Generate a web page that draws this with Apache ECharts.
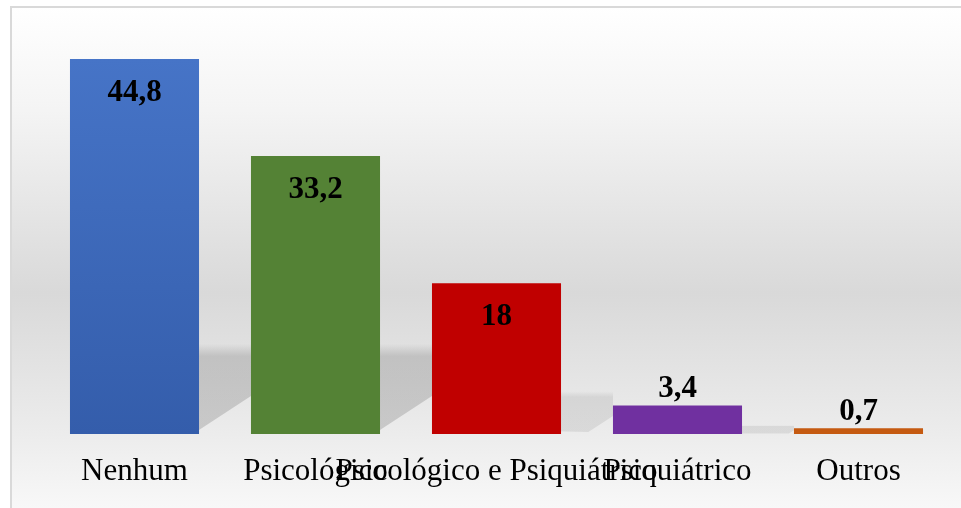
<!DOCTYPE html>
<html>
<head>
<meta charset="utf-8">
<script src="https://cdn.jsdelivr.net/npm/echarts@6/dist/echarts.min.js"></script>
<style>
  html, body { margin: 0; padding: 0; background: #fff; }
  #chart { width: 961px; height: 508px; }
</style>
</head>
<body>
<div id="chart"></div>
<script>
// dados do gráfico
var categorias = ['Nenhum', 'Psicológico', 'Psicológico e Psiquiátrico', 'Psiquiátrico', 'Outros'];
var valores = [44.8, 33.2, 18, 3.4, 0.7];
var cores = ['#4472C4', '#548235', '#C00000', '#7030A0', '#C55A11'];

var myChart = echarts.init(document.getElementById('chart'));

function fmt(v) {
    return String(v).replace('.', ',');
}

// barras com cor e posição do rótulo
var barData = valores.map(function(v, i) {
    var item = { value: v, itemStyle: { color: cores[i] } };
    if (i === 0) {
        item.itemStyle.color = new echarts.graphic.LinearGradient(0, 0, 0, 1, [
            { offset: 0, color: '#4674C7' },
            { offset: 1, color: '#345DAB' }
        ]);
    }
    if (v > 10) {
        item.label = { position: 'insideTop', distance: 18 };
    } else {
        item.label = { position: 'top', distance: 1 };
    }
    return item;
});

// sombra atrás das barras (a primeira barra não tem)
function renderShadow(params, api) {
    if (params.dataIndex === 0) {
        return null;
    }
    var base = api.coord([api.value(0), 0]);
    var top = api.coord([api.value(0), api.value(1)]);
    var bw = api.size([1, 0])[0] * 0.713;
    var xl = base[0] - bw / 2;
    var yb = base[1];
    var h = Math.min(90, (yb - top[1]) * 1.5);
    var k = h / 90;
    var alpha = h < 60 ? 0.16 : 0.3;
    return {
        type: 'polygon',
        shape: {
            points: [
                [xl, yb - h],
                [xl - 60, yb - h],
                [xl - 60, yb - 6 * k],
                [xl - 52 * k, yb - 4 * k],
                [xl, yb - 38 * k]
            ]
        },
        style: {
            fill: new echarts.graphic.LinearGradient(0, 0, 0, 1, [
                { offset: 0, color: 'rgba(120,120,120,0)' },
                { offset: 0.14, color: 'rgba(120,120,120,' + alpha + ')' },
                { offset: 1, color: 'rgba(120,120,120,' + alpha + ')' }
            ])
        }
    };
}

var options = {
    animation: false,
    graphic: {
        elements: [{
            type: 'rect',
            z: -10,
            shape: { x: 11, y: 7, width: 980, height: 520 },
            style: {
                fill: new echarts.graphic.LinearGradient(0, 0, 0, 1, [
                    { offset: 0, color: '#ffffff' },
                    { offset: 0.2, color: '#f4f4f4' },
                    { offset: 0.55, color: '#d9d9d9' },
                    { offset: 0.82, color: '#ececec' },
                    { offset: 1, color: '#fbfbfb' }
                ]),
                stroke: '#d9d9d9',
                lineWidth: 2
            }
        }]
    },
    grid: {
        left: 44,
        right: 12,
        top: 15.5,
        bottom: 74
    },
    xAxis: {
        type: 'category',
        data: categorias,
        axisLine: { show: false },
        axisTick: { show: false },
        axisLabel: {
            interval: 0,
            hideOverlap: false,
            margin: 22,
            color: '#000',
            fontFamily: 'Liberation Serif',
            fontSize: 31
        }
    },
    yAxis: {
        type: 'value',
        min: 0,
        max: 50,
        show: false
    },
    series: [
        {
            type: 'custom',
            renderItem: renderShadow,
            data: valores.map(function(v, i) { return [i, v]; }),
            z: 1,
            silent: true
        },
        {
            type: 'bar',
            data: barData,
            barWidth: '71.3%',
            z: 3,
            label: {
                show: true,
                color: '#000',
                fontFamily: 'Liberation Serif',
                fontWeight: 'bold',
                fontSize: 31,
                formatter: function(p) { return fmt(p.value); }
            }
        }
    ]
};

myChart.setOption(options);
</script>
</body>
</html>
